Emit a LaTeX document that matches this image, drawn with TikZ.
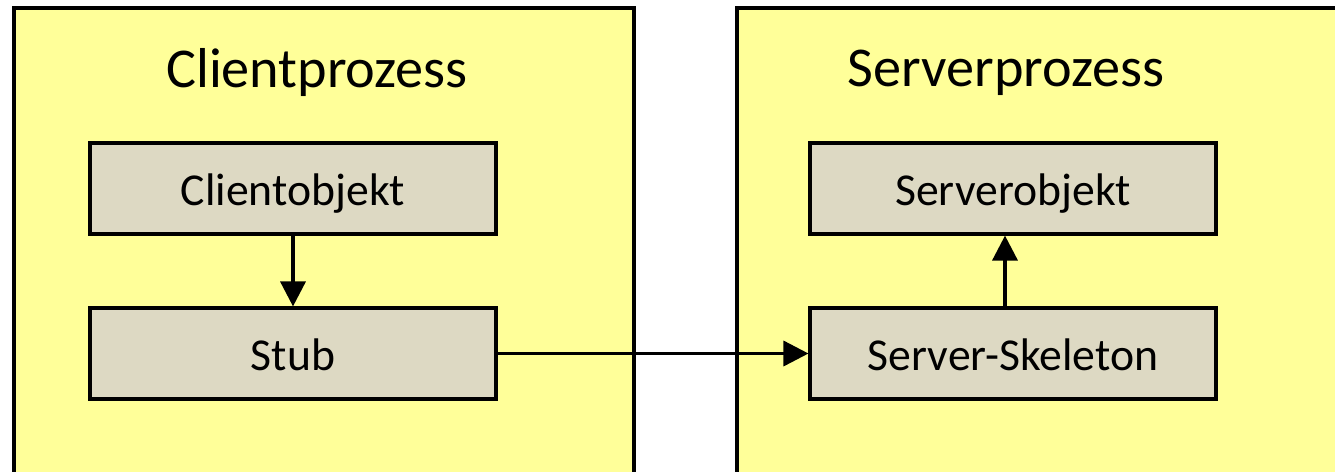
\documentclass[tikz,border=0pt]{standalone}
\usepackage{fontspec}
\setmainfont{Carlito}
\usetikzlibrary{calc,positioning,arrows.meta}
\definecolor{prozgelb}{HTML}{FFFF99}
\definecolor{objgrau}{HTML}{DDD9C3}
\tikzset{
    prozess/.style={draw, line width=2.4pt, fill=prozgelb},
    titel/.style={font=\fontsize{32}{38}\selectfont},
    objbox/.style={draw, line width=1.8pt, fill=objgrau, minimum width=8.12cm, minimum height=1.82cm, text height=0.86cm, text depth=0.2cm, font=\fontsize{26}{30}\selectfont},
    aufruf/.style={-{Triangle[length=0.5cm,width=0.5cm]}, line width=2pt}
}

\begin{document}
\begin{tikzpicture}[x=0.02cm, y=-0.02cm]
            \useasboundingbox (0,0) rectangle (1335,471);
            \clip (0,0) rectangle (1335,471);
            % Process boxes
            \draw[prozess] (14,8) rectangle (634,500);
            \draw[prozess] (737,8) rectangle (1360,500);
            \node[titel] (clienttitel) at (317,73) {Clientprozess}; % Title client
            \node[titel] (servertitel) at (1006,73) {Serverprozess}; % Title server

            % Objects
            \node[objbox] (clientobj) at (293,188.5) {Clientobjekt};
            \node[objbox] (stub) at (293,353.5) {Stub};
            \node[objbox] (serverobj) at (1013,188.5) {Serverobjekt};
            \node[objbox] (skeleton) at (1013,353.5) {Server-Skeleton};

            % Calls
            \draw[aufruf] (clientobj) -- (stub);
            \draw[aufruf] (stub) -- (skeleton);
            \draw[aufruf] (skeleton.north -| 1005,0) -- (serverobj.south -| 1005,0);
        \end{tikzpicture}
\end{document}
